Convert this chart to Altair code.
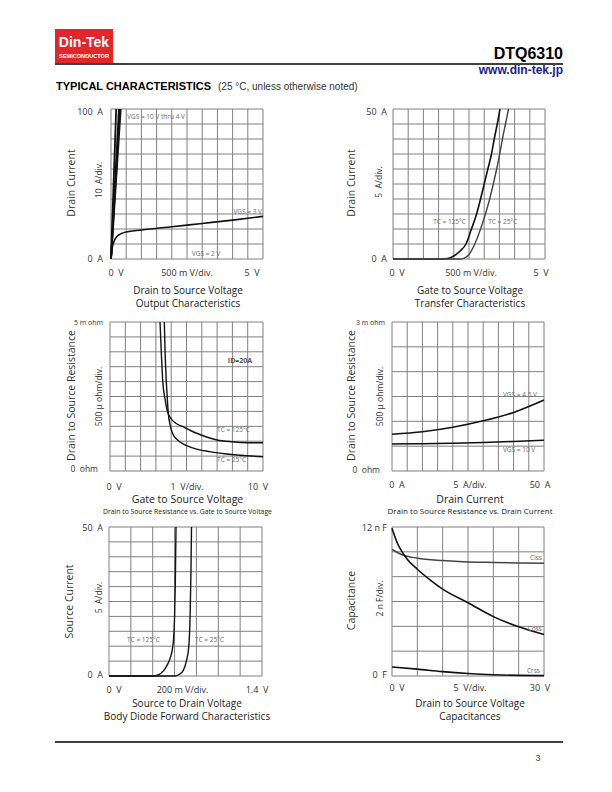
import altair as alt
import pandas as pd

PF = "Open Sans"
HF = "Liberation Sans"
GRID = "#808080"
INK = "#111111"
LAB = "#333333"
NOTE = "#6b6b6b"

# ---------------- data ----------------
# Panel 1: Output characteristics (VDS in V, ID in A)
out_vds_ticks = [0, 0.5, 1.0, 1.5, 2.0, 2.5, 3.0, 3.5, 4.0, 4.5, 5.0]
out_id_ticks = [0, 10, 20, 30, 40, 50, 60, 70, 80, 90, 100]
out_hi_vds_at_100A = [0.17, 0.26, 0.29, 0.32]        # VGS = 10 V thru 4 V
out_vgs3_vds = [0, 0.05, 0.1, 0.2, 0.3, 0.5, 1, 2, 3, 4, 5]
out_vgs3_id = [0, 8.4, 11.8, 15.1, 16.6, 18.0, 19.3, 21.5, 23.7, 25.9, 28.4]

# Panel 2: Transfer characteristics (VGS in V, ID in A)
tr_vgs_ticks = [0, 0.5, 1.0, 1.5, 2.0, 2.5, 3.0, 3.5, 4.0, 4.5, 5.0]
tr_id_ticks = [0, 5, 10, 15, 20, 25, 30, 35, 40, 45, 50]
tr_125_vgs = [0, 1.6, 1.8, 2.0, 2.2, 2.4, 2.58, 2.75, 2.88, 3.0, 3.12, 3.24, 3.33, 3.43, 3.52]
tr_125_id = [0, 0, 0.15, 1.0, 2.6, 5, 10, 15, 20, 25, 30, 35, 40, 45, 50]
tr_25_vgs = [0, 2.2, 2.35, 2.5, 2.69, 2.88, 3.04, 3.18, 3.3, 3.41, 3.51, 3.6, 3.7, 3.8]
tr_25_id = [0, 0, 0.3, 1.5, 5, 10, 15, 20, 25, 30, 35, 40, 45, 50]

# Panel 3: RDS(on) vs VGS (VGS in V, RDS in mOhm)
rg_vgs_ticks = [0, 1, 2, 3, 4, 5, 6, 7, 8, 9, 10]
rg_r_ticks = [0, 0.5, 1.0, 1.5, 2.0, 2.5, 3.0, 3.5, 4.0, 4.5, 5.0]
rg_125_vgs = [3.27, 3.35, 3.45, 3.6, 3.75, 4.0, 4.3, 4.8, 5.5, 6.0, 7.0, 8.0, 9.0, 10.0]
rg_125_r = [5.0, 4.0, 3.0, 2.4, 2.0, 1.75, 1.6, 1.48, 1.3, 1.2, 1.04, 0.98, 0.95, 0.95]
rg_25_vgs = [3.55, 3.6, 3.68, 3.75, 3.8, 3.95, 4.1, 4.4, 4.8, 5.5, 6.5, 7.5, 8.5, 10.0]
rg_25_r = [5.0, 4.0, 3.0, 2.4, 2.0, 1.5, 1.25, 1.05, 0.9, 0.76, 0.65, 0.58, 0.53, 0.48]

# Panel 4: RDS(on) vs ID (ID in A, RDS in mOhm)
ri_id_ticks = [0, 5, 10, 15, 20, 25, 30, 35, 40, 45, 50]
ri_r_ticks = [0, 0.5, 1.0, 1.5, 2.0, 2.5, 3.0]
ri_id = [0, 10, 20, 30, 40, 50]
ri_vgs45_r = [0.74, 0.79, 0.88, 1.01, 1.18, 1.43]
ri_vgs10_r = [0.545, 0.55, 0.56, 0.575, 0.595, 0.62]

# Panel 5: Body diode (VSD in V, IS in A)
bd_vsd_ticks = [0, 0.2, 0.4, 0.6, 0.8, 1.0, 1.2, 1.4]
bd_is_ticks = [0, 5, 10, 15, 20, 25, 30, 35, 40, 45, 50]
bd_125_vsd = [0, 0.4, 0.45, 0.5, 0.53, 0.56, 0.58, 0.59, 0.6, 0.607, 0.613]
bd_125_is = [0, 0, 0.4, 1.8, 3.5, 6, 9, 12, 20, 32, 50]
bd_25_vsd = [0, 0.6, 0.64, 0.68, 0.71, 0.73, 0.742, 0.75, 0.755]
bd_25_is = [0, 0, 0.5, 1.9, 5.3, 9.8, 20, 35, 50]

# Panel 6: Capacitance (VDS in V, C in nF)
cap_vds_ticks = [0, 5, 10, 15, 20, 25, 30]
cap_c_ticks = [0, 2, 4, 6, 8, 10, 12]
ciss_vds = [0, 2, 5, 10, 15, 20, 25, 30]
ciss_c = [10.2, 9.76, 9.49, 9.3, 9.19, 9.14, 9.1, 9.08]
coss_vds = [0, 0.5, 1, 2, 3, 5, 7.5, 10, 15, 20, 25, 30]
coss_c = [11.9, 11.3, 10.75, 10.0, 9.4, 8.6, 7.75, 7.0, 5.9, 4.78, 3.96, 3.34]
crss_vds = [0, 5, 10, 15, 20, 25, 30]
crss_c = [0.73, 0.55, 0.35, 0.2, 0.1, 0.05, 0.03]


# ---------------- helpers ----------------
class Panel:
    def __init__(self, xdom, ydom, xr, yr, xticks, yticks):
        self.sx = alt.Scale(domain=xdom, range=xr, nice=False, zero=False)
        self.sy = alt.Scale(domain=ydom, range=yr, nice=False, zero=False)
        self.layers = []
        v = pd.DataFrame({"x": xticks, "y0": [ydom[0]] * len(xticks), "y1": [ydom[1]] * len(xticks)})
        h = pd.DataFrame({"y": yticks, "x0": [xdom[0]] * len(yticks), "x1": [xdom[1]] * len(yticks)})
        self.layers.append(alt.Chart(v).mark_rule(color=GRID, strokeWidth=1).encode(
            x=alt.X("x:Q", scale=self.sx, axis=None),
            y=alt.Y("y0:Q", scale=self.sy, axis=None), y2="y1:Q"))
        self.layers.append(alt.Chart(h).mark_rule(color=GRID, strokeWidth=1).encode(
            y=alt.Y("y:Q", scale=self.sy, axis=None),
            x=alt.X("x0:Q", scale=self.sx, axis=None), x2="x1:Q"))

    def curve(self, xs, ys, color=INK, width=1.6, interp="monotone"):
        df = pd.DataFrame({"x": xs, "y": ys, "i": list(range(len(xs)))})
        self.layers.append(alt.Chart(df).mark_line(color=color, strokeWidth=width, interpolate=interp).encode(
            x=alt.X("x:Q", scale=self.sx, axis=None),
            y=alt.Y("y:Q", scale=self.sy, axis=None), order="i:Q"))

    def text(self, x, y, s, size=9, align="center", dx=0, dy=0, angle=0, color=LAB, weight="normal", font=PF):
        df = pd.DataFrame({"x": [x], "y": [y], "t": [s]})
        kw = dict(fontSize=size, align=align, baseline="middle", dx=dx, dy=dy,
                  color=color, fontWeight=weight, font=font)
        if angle:
            kw["angle"] = angle
        self.layers.append(alt.Chart(df).mark_text(**kw).encode(
            x=alt.X("x:Q", scale=self.sx, axis=None),
            y=alt.Y("y:Q", scale=self.sy, axis=None), text="t:N"))

    def chart(self):
        return alt.layer(*self.layers)


S = "\u00a0\u00a0"
TC = "#222222"

# Panel 1
p1 = Panel([0, 5], [0, 100], [103, 255], [251, 101], out_vds_ticks, out_id_ticks)
for e in out_hi_vds_at_100A:
    p1.curve([0, e], [0, 100], width=1.8, interp="linear")
p1.curve(out_vgs3_vds, out_vgs3_id)
p1.text(0, 100, "100" + S + "A", align="right", dx=-8, dy=3)
p1.text(0, 0, "0" + S + "A", align="right", dx=-8)
p1.text(0, 0, "0" + S + "V", dx=5, dy=14)
p1.text(2.5, 0, "500 m V/div.", dy=14)
p1.text(5, 0, "5" + S + "V", dx=-11, dy=14)
p1.text(0, 50, "Drain Current", size=10.5, angle=270, dy=-39, dx=1)
p1.text(0, 50, "10" + S + "A/div.", size=8.5, angle=270, dy=-12, dx=4)
p1.text(2.5, 0, "Drain to Source Voltage", size=10, dy=31.5, dx=1, color=TC)
p1.text(2.5, 0, "Output Characteristics", size=10, dy=44.5, dx=1, color=TC)
p1.text(0.53, 94.7, "VGS = 10 V thru 4 V", size=6.5, align="left", color=NOTE)
p1.text(5, 31.3, "VGS = 3 V", size=6.5, align="right", dx=-1, color=NOTE)
p1.text(2.66, 3.3, "VGS = 2 V", size=6.5, align="left", color=NOTE)

# Panel 2
p2 = Panel([0, 5], [0, 50], [385, 537], [251, 101], tr_vgs_ticks, tr_id_ticks)
p2.curve(tr_125_vgs, tr_125_id)
p2.curve(tr_25_vgs, tr_25_id, color="#444444", width=1.4)
p2.text(0, 50, "50" + S + "A", align="right", dx=-6, dy=3)
p2.text(0, 0, "0" + S + "A", align="right", dx=-6)
p2.text(0, 0, "0" + S + "V", dx=4, dy=14)
p2.text(2.5, 0, "500 m V/div.", dx=2, dy=14)
p2.text(5, 0, "5" + S + "V", dx=-4, dy=14)
p2.text(0, 25, "Drain Current", size=10.5, angle=270, dy=-41, dx=1)
p2.text(0, 25, "5" + S + "A/div.", size=8.5, angle=270, dy=-14, dx=2)
p2.text(2.5, 0, "Gate to Source Voltage", size=10, dy=31.5, dx=1, color=TC)
p2.text(2.5, 0, "Transfer Characteristics", size=10, dy=44.5, dx=1, color=TC)
p2.text(1.32, 12.3, "TC = 125°C", size=6.5, align="left", color=NOTE)
p2.text(3.13, 12.3, "TC = 25°C", size=6.5, align="left", color=NOTE)

# Panel 3
p3 = Panel([0, 10], [0, 5], [102, 255], [463, 314], rg_vgs_ticks, rg_r_ticks)
p3.curve(rg_125_vgs, rg_125_r, width=1.4)
p3.curve(rg_25_vgs, rg_25_r, width=1.4)
p3.text(0, 5, "5 m ohm", size=7, align="right", dx=-7, dy=1)
p3.text(0, 0, "0" + S + "ohm", size=8.5, align="right", dx=-12, dy=-2)
p3.text(0, 0, "0" + S + "V", dx=4, dy=16)
p3.text(5, 0, "1" + S + "V/div.", dx=0.5, dy=16)
p3.text(10, 0, "10" + S + "V", dx=-5, dy=16)
p3.text(0, 2.5, "Drain to Source Resistance", size=10.5, angle=270, dy=-38, dx=1)
p3.text(0, 2.5, "500 µ ohm/div.", size=8.5, angle=270, dy=-11)
p3.text(5, 0, "Gate to Source Voltage", size=10.5, dy=29, dx=1, color=TC)
p3.text(5, 0, "Drain to Source Resistance vs. Gate to Source Voltage", size=6.8, dy=40.5, dx=1, color=TC)
p3.text(7.7, 3.69, "ID=20A", size=7, align="left", weight="bold", color="#555")
p3.text(7.0, 1.38, "TC = 125°C", size=6.5, align="left", color=NOTE)
p3.text(7.0, 0.37, "TC = 25°C", size=6.5, align="left", color=NOTE)

# Panel 4
p4 = Panel([0, 50], [0, 3], [384, 536], [463, 314], ri_id_ticks, ri_r_ticks)
p4.curve(ri_id, ri_vgs45_r)
p4.curve(ri_id, ri_vgs10_r)
p4.text(0, 3, "3 m ohm", size=7, align="right", dx=-7, dy=1)
p4.text(0, 0, "0" + S + "ohm", size=8.5, align="right", dx=-12, dy=-1)
p4.text(0, 0, "0" + S + "A", dx=5, dy=14)
p4.text(25, 0, "5" + S + "A/div.", dx=2, dy=14)
p4.text(50, 0, "50" + S + "A", dx=-4, dy=14)
p4.text(0, 1.5, "Drain to Source Resistance", size=10.5, angle=270, dy=-40, dx=1)
p4.text(0, 1.5, "500 µ ohm/div.", size=8.5, angle=270, dy=-12)
p4.text(25, 0, "Drain Current", size=10.5, dy=29, dx=2, color=TC)
p4.text(25, 0, "Drain to Source Resistance vs. Drain Current", size=8, dy=41, dx=2, color=TC)
p4.text(36.5, 1.53, "VGS = 4.5 V", size=6.5, align="left", color=NOTE)
p4.text(36.5, 0.42, "VGS = 10 V", size=6.5, align="left", color=NOTE)

# Panel 5
p5 = Panel([0, 1.4], [0, 50], [101, 254], [668, 519], bd_vsd_ticks, bd_is_ticks)
p5.curve(bd_125_vsd, bd_125_is, width=1.4)
p5.curve(bd_25_vsd, bd_25_is, width=1.4)
p5.text(0, 50, "50" + S + "A", align="right", dx=-6, dy=1)
p5.text(0, 0, "0" + S + "A", align="right", dx=-6, dy=-1)
p5.text(0, 0, "0" + S + "V", dx=5, dy=14)
p5.text(0.7, 0, "200 m V/div.", dx=-3, dy=14)
p5.text(1.4, 0, "1.4" + S + "V", dx=-5, dy=14)
p5.text(0, 25, "Source Current", size=10.5, angle=270, dy=-39)
p5.text(0, 25, "5" + S + "A/div.", size=8.5, angle=270, dy=-10, dx=4)
p5.text(0.7, 0, "Source to Drain Voltage", size=10, dy=28, dx=1.5, color=TC)
p5.text(0.7, 0, "Body Diode Forward Characteristics", size=10, dy=41, dx=1.5, color=TC)
p5.text(0.165, 12.1, "TC = 125°C", size=6.5, align="left", color=NOTE)
p5.text(0.787, 12.1, "TC = 25°C", size=6.5, align="left", color=NOTE)

# Panel 6
p6 = Panel([0, 30], [0, 12], [384, 536], [668, 519], cap_vds_ticks, cap_c_ticks)
p6.curve(ciss_vds, ciss_c, color="#444444", width=1.5)
p6.curve(coss_vds, coss_c)
p6.curve(crss_vds, crss_c)
p6.text(0, 12, "12 n F", align="right", dx=-5, dy=1)
p6.text(0, 0, "0" + S + "F", align="right", dx=-5, dy=-1)
p6.text(0, 0, "0" + S + "V", dx=5, dy=12)
p6.text(15, 0, "5" + S + "V/div.", dx=2, dy=12)
p6.text(30, 0, "30" + S + "V", dx=-4, dy=12)
p6.text(0, 6, "Capacitance", size=10.5, angle=270, dy=-40, dx=1)
p6.text(0, 6, "2 n F/div.", size=8.5, angle=270, dy=-12, dx=3)
p6.text(15, 0, "Drain to Source Voltage", size=10, dy=27.5, dx=2, color=TC)
p6.text(15, 0, "Capacitances", size=10, dy=40.5, dx=2, color=TC)
p6.text(29.6, 9.5, "Ciss", size=6.5, align="right", color=NOTE)
p6.text(29.6, 3.78, "Coss", size=6.5, align="right", color=NOTE)
p6.text(29.2, 0.4, "Crss", size=6.5, align="right", color=NOTE)

# ---------------- page decoration ----------------
ONE = pd.DataFrame({"a": [0]})


def deco_text(s, x, y, size, color="#000", weight="normal", font=HF, align="left", baseline="alphabetic"):
    return alt.Chart(ONE).mark_text(text=s, fontSize=size, color=color, fontWeight=weight, font=font,
                                    align=align, baseline=baseline).encode(x=alt.value(x), y=alt.value(y))


def deco_rule(x1, x2, y, w=1.5):
    return alt.Chart(ONE).mark_rule(color="#000", strokeWidth=w).encode(
        x=alt.value(x1), x2=alt.value(x2), y=alt.value(y))


deco = [
    alt.Chart(ONE).mark_rect(color="#e3262b").encode(
        x=alt.value(47), x2=alt.value(105), y=alt.value(21), y2=alt.value(55)),
    deco_text("Din-Tek", 76, 35, 14, color="#fff", weight="bold",
              font="Liberation Sans Narrow, Liberation Sans", align="center", baseline="middle"),
    deco_text("SEMICONDUCTOR", 76, 48, 5.6, color="#fff", weight="bold", align="center", baseline="middle"),
    deco_rule(47, 555, 56),
    deco_text("DTQ6310", 555, 51, 16, weight="bold", align="right"),
    deco_text("www.din-tek.jp", 555, 66, 12, color="#1c1c8a", weight="bold", align="right"),
    deco_text("TYPICAL CHARACTERISTICS", 48, 82, 11, weight="bold"),
    deco_text("(25 °C, unless otherwise noted)", 210, 82, 10, color="#333"),
    deco_rule(47, 555, 734),
    deco_text("3", 530, 753, 9, color="#444", align="center"),
]

chart = alt.layer(
    p1.chart(), p2.chart(), p3.chart(), p4.chart(), p5.chart(), p6.chart(), *deco
).resolve_scale(x="independent", y="independent").properties(
    width=596, height=770, padding=0, autosize=alt.AutoSizeParams(type="none")
).configure_view(stroke=None)

chart.save("out.html", embed_options={"renderer": "svg", "actions": False})
